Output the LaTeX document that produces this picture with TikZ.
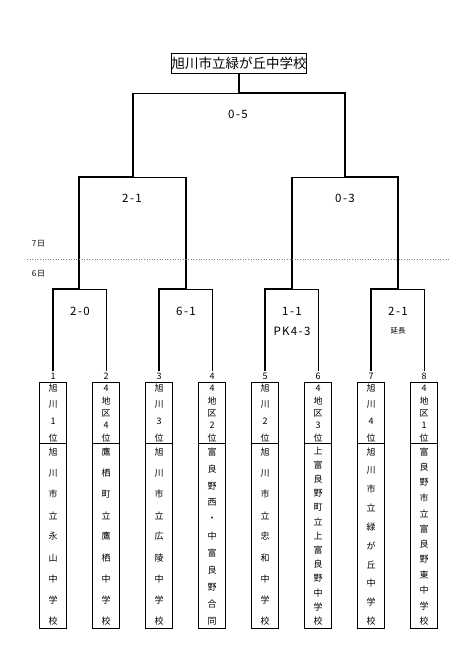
\documentclass[tikz,border=0pt]{standalone}
\usepackage{fontspec}
\setmainfont{Noto Sans CJK JP}
\newfontfamily\scorefont[LetterSpace=12]{Noto Sans CJK JP}
\newcommand\vtext[6]{%
  \foreach \c [count=\i] in {#6} {%
    \node[chr] (#1-\i) at ({#2},{#3+(\i-1)*(#4-#3)/(#5-1)}) {\c};
  }%
}
\begin{document}
\begin{tikzpicture}[x=1pt,y=-1pt,
  win/.style={line width=2pt, line join=miter},
  lose/.style={line width=0.8pt},
  boxline/.style={line width=0.8pt},
  teambox/.style={draw, line width=0.8pt, minimum width=27pt, minimum height=246pt, anchor=north, inner sep=0pt},
  score/.style={font=\scorefont\fontsize{11.5}{12}\selectfont, inner sep=0pt},
  small/.style={font=\scorefont\fontsize{8}{8}\selectfont, inner sep=0pt},
  chr/.style={font=\fontsize{9}{9}\selectfont, inner sep=0pt},
  num/.style={font=\fontsize{9}{9}\selectfont, inner sep=0pt, minimum height=9pt}]
\useasboundingbox (0,0) rectangle (470,656);

% title
\node[draw, line width=1pt, minimum width=134pt, minimum height=20pt, inner sep=0pt,
  font=\fontsize{13.5}{14}\selectfont] (title) at (239,63) {旭川市立緑が丘中学校};

% bracket coordinates
\coordinate (F) at (239,93);
\coordinate (S1) at (133,93);  \coordinate (S2) at (345,93);
\coordinate (S1b) at (133,177); \coordinate (S2b) at (345,177);
\coordinate (Q1) at (79,177);  \coordinate (Q2) at (186,177);
\coordinate (Q3) at (292,177); \coordinate (Q4) at (398,177);
\coordinate (Q1b) at (79,289);  \coordinate (Q2b) at (186,289);
\coordinate (Q3b) at (292,289); \coordinate (Q4b) at (398,289);
\coordinate (R1) at (53,289);  \coordinate (R2) at (106,289);
\coordinate (R3) at (159,289); \coordinate (R4) at (212,289);
\coordinate (R5) at (265,289); \coordinate (R6) at (318,289);
\coordinate (R7) at (371,289); \coordinate (R8) at (424,289);
\coordinate (div) at (0,443);

% seed numbers and boxes
\foreach \k/\x in {1/53,2/106,3/159,4/212,5/265,6/318,7/371,8/424} {
  \node[num] (n\k) at (\x,376) {\k};
  \node[teambox] (b\k) at (\x,382) {};
  \draw[boxline] (b\k.west |- div) -- (b\k.east |- div);
}

% thin (losing) lines
\draw[lose] (S1) -- (F);
\draw[lose] (S1b) -- (Q2);
\draw[lose] (Q3) -- (S2b);
\draw[lose] (Q1b) -- (R2) -- (n2.north);
\draw[lose] (Q2b) -- (R4) -- (n4.north);
\draw[lose] (Q3b) -- (R6) -- (n6.north);
\draw[lose] (Q4b) -- (R8) -- (n8.north);

% thick (winning) lines
\draw[win] (n7.north) -- (R7) -- (Q4b) -- (Q4) -- (S2b) -- (S2) -- (F) -- (title.south);
\draw[win] (n1.north) -- (R1) -- (Q1b) -- (Q1) -- (S1b) -- (S1);
\draw[win] (n3.north) -- (R3) -- (Q2b) -- (Q2);
\draw[win] (n5.north) -- (R5) -- (Q3b) -- (Q3);

% day separator
\coordinate (dL) at (27,259); \coordinate (dR) at (450,259);
\draw[gray, dotted, line width=0.6pt] (dL) -- (dR);
\node[small] (d7) at (38.5,244) {7日};
\node[small] (d6) at (38.5,274) {6日};

% scores
\node[score] (m0) at (238,114) {0-5};
\node[score] (m21) at (132,198) {2-1};
\node[score] (m22) at (345,198) {0-3};
\node[score] (m11) at (80,311) {2-0};
\node[score] (m12) at (186,311) {6-1};
\node[score] (m13) at (292,311) {1-1};
\node[score] (m13b) at (292,331) {PK4-3};
\node[score] (m14) at (398,311) {2-1};
\node[font=\fontsize{7.5}{8}\selectfont, inner sep=0pt] (m14b) at (398,331) {延長};

% upper box texts
\vtext{u1}{53}{388}{438}{4}{旭,川,1,位}
\vtext{u2}{106}{388}{438}{5}{4,地,区,4,位}
\vtext{u3}{159}{388}{438}{4}{旭,川,3,位}
\vtext{u4}{212}{388}{438}{5}{4,地,区,2,位}
\vtext{u5}{265}{388}{438}{4}{旭,川,2,位}
\vtext{u6}{318}{388}{438}{5}{4,地,区,3,位}
\vtext{u7}{371}{388}{438}{4}{旭,川,4,位}
\vtext{u8}{424}{388}{438}{5}{4,地,区,1,位}

% lower box texts
\vtext{l1}{53}{452}{621}{9}{旭,川,市,立,永,山,中,学,校}
\vtext{l2}{106}{452}{621}{9}{鷹,栖,町,立,鷹,栖,中,学,校}
\vtext{l3}{159}{452}{621}{9}{旭,川,市,立,広,陵,中,学,校}
\vtext{l4}{212}{452}{621}{11}{富,良,野,西,・,中,富,良,野,合,同}
\vtext{l5}{265}{452}{621}{9}{旭,川,市,立,忠,和,中,学,校}
\vtext{l6}{318}{451}{621}{13}{上,富,良,野,町,立,上,富,良,野,中,学,校}
\vtext{l7}{371}{452}{621}{10}{旭,川,市,立,緑,が,丘,中,学,校}
\vtext{l8}{424}{452}{621}{12}{富,良,野,市,立,富,良,野,東,中,学,校}
\end{tikzpicture}
\end{document}
